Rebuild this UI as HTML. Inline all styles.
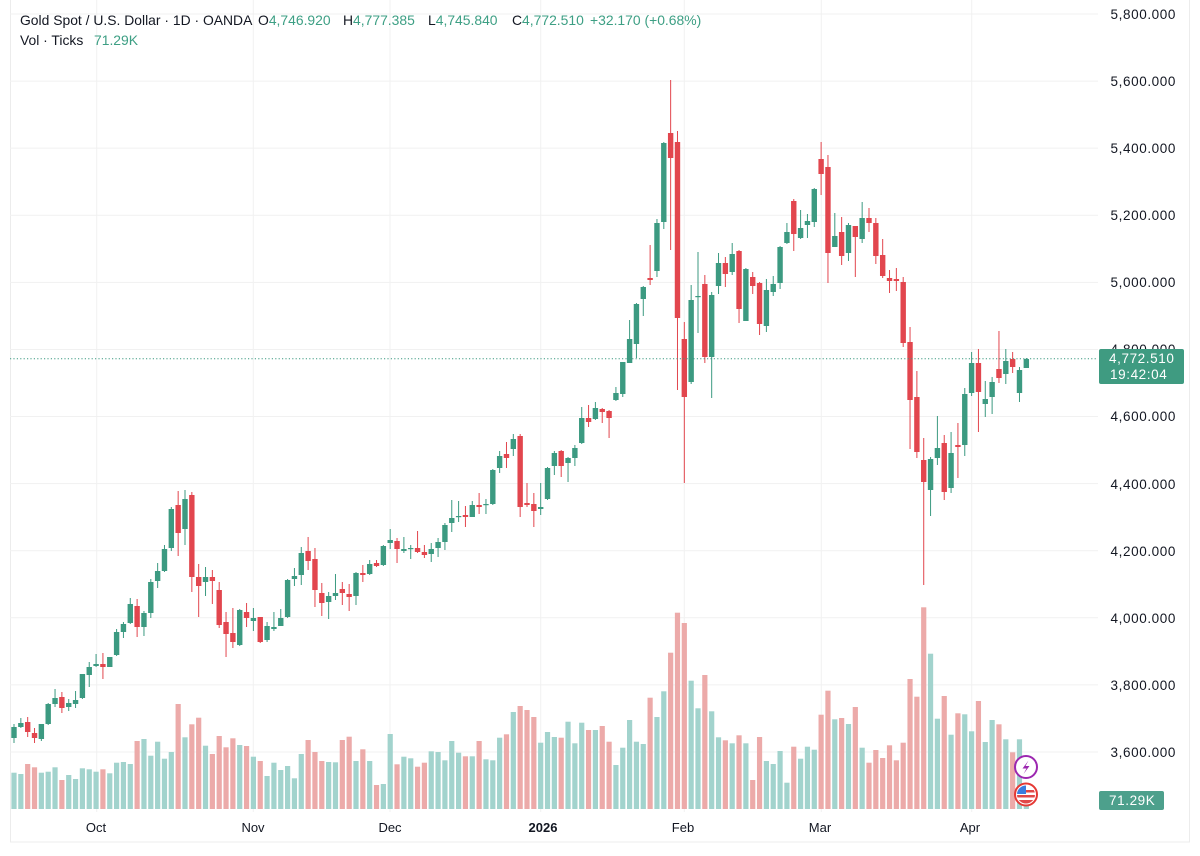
<!DOCTYPE html>
<html>
<head>
<meta charset="utf-8">
<style>
html,body{margin:0;padding:0;background:#fff;}
body{width:1200px;height:856px;overflow:hidden;position:relative;font-family:"Liberation Sans",sans-serif;color:#131722;}
svg{position:absolute;left:0;top:0;}
.t{position:absolute;font-size:13.9px;white-space:nowrap;line-height:16px;}
.gr{color:#3d9f84;}
</style>
</head>
<body>
<svg id="chart" width="1200" height="856" viewBox="0 0 1200 856" xmlns="http://www.w3.org/2000/svg">
  <rect x="10.5" y="-2" width="1179" height="844" fill="none" stroke="#ececec" stroke-width="1"/>
  <g id="grid" stroke="#f1f1f1" stroke-width="1"></g>
  <g id="vol"></g>
  <g id="candles"></g>
  <line x1="10" y1="358.7" x2="1098" y2="358.7" stroke="#3c9a81" stroke-width="1" stroke-dasharray="1.2,2.2"/>
  <g font-family="Liberation Sans, sans-serif" font-size="13.5" fill="#131722" text-anchor="end" letter-spacing="0.6">
    <text x="1176" y="19">5,800.000</text>
    <text x="1176" y="86">5,600.000</text>
    <text x="1176" y="153">5,400.000</text>
    <text x="1176" y="220">5,200.000</text>
    <text x="1176" y="287">5,000.000</text>
    <text x="1176" y="354">4,800.000</text>
    <text x="1176" y="421">4,600.000</text>
    <text x="1176" y="489">4,400.000</text>
    <text x="1176" y="556">4,200.000</text>
    <text x="1176" y="623">4,000.000</text>
    <text x="1176" y="690">3,800.000</text>
    <text x="1176" y="757">3,600.000</text>
  </g>
  <rect x="1099" y="349" width="85" height="35" rx="2" fill="#3f9b81"/>
  <g font-family="Liberation Sans, sans-serif" font-size="13.5" fill="#ffffff" letter-spacing="0.6">
    <text x="1109" y="363">4,772.510</text>
    <text x="1110" y="379">19:42:04</text>
  </g>
  <rect x="1099" y="791" width="65" height="19" rx="2" fill="#4da08c"/>
  <text x="1109" y="805" font-family="Liberation Sans, sans-serif" font-size="13.5" fill="#ffffff" letter-spacing="0.6">71.29K</text>
  <circle cx="1026" cy="767" r="11" fill="#fff" stroke="#9c27b0" stroke-width="2"/>
  <path d="M1028.5 760.5 L1022.5 768.5 L1026.5 768.5 L1023.5 774 L1029.5 766 L1025.5 766 Z" fill="#9c27b0"/>
  <defs><clipPath id="fc"><circle cx="1026" cy="794.5" r="9"/></clipPath></defs>
  <circle cx="1026" cy="794.5" r="11" fill="#fff" stroke="#e53935" stroke-width="2"/>
  <g clip-path="url(#fc)">
    <rect x="1016" y="785" width="20" height="20" fill="#fff"/>
    <rect x="1016" y="790" width="20" height="2.5" fill="#e04848"/>
    <rect x="1016" y="795" width="20" height="2.5" fill="#e04848"/>
    <rect x="1016" y="800" width="20" height="6" fill="#e04848"/>
    <rect x="1016" y="785" width="10" height="9" fill="#3b7de0"/>
  </g>
  <g font-family="Liberation Sans, sans-serif" font-size="13" fill="#131722" text-anchor="middle">
    <text x="96" y="832">Oct</text>
    <text x="253" y="832">Nov</text>
    <text x="390" y="832">Dec</text>
    <text x="543" y="832" font-weight="bold">2026</text>
    <text x="683" y="832">Feb</text>
    <text x="820" y="832">Mar</text>
    <text x="970" y="832">Apr</text>
  </g>
</svg>

<div class="t" style="left:20px;top:12px;">Gold Spot / U.S. Dollar · 1D · OANDA</div>
<div class="t" style="left:258px;top:12px;">O<span class="gr">4,746.920</span></div>
<div class="t" style="left:343px;top:12px;">H<span class="gr">4,777.385</span></div>
<div class="t" style="left:428px;top:12px;">L<span class="gr">4,745.840</span></div>
<div class="t" style="left:512px;top:12px;">C<span class="gr">4,772.510</span></div>
<div class="t gr" style="left:590px;top:12px;">+32.170 (+0.68%)</div>
<div class="t" style="left:20px;top:32px;">Vol · Ticks</div>
<div class="t gr" style="left:94px;top:32px;">71.29K</div>

<script>
(function(){
var NS="http://www.w3.org/2000/svg";
function el(tag,attrs,parent){var e=document.createElementNS(NS,tag);for(var k in attrs)e.setAttribute(k,attrs[k]);parent.appendChild(e);return e;}
var grid=document.getElementById('grid');
for(var k=0;k<12;k++){var y=14+k*67.09;el('line',{x1:10,x2:1098,y1:y,y2:y},grid);}
[96.7,253.3,390,540.7,684.3,821.3,971.7].forEach(function(x){el('line',{x1:x,x2:x,y1:0,y2:812},grid);});

var C=[
[1,724,727,738,743],[1,718,723,727,728],[0,717,722,732,737],[0,728,733,738,743],[1,724,724,739,741],
[1,703,704,724,725],[1,689,698,704,707],[0,692,697,708,713],[1,699,703,707,711],[1,691,700,704,708],
[1,674,674,698,699],[1,662,667,675,687],[1,654,664,666,667],[0,653,664,667,679],[1,657,657,667,667],
[1,629,632,655,656],[1,622,624,632,638],[1,598,604,623,624],[0,599,606,627,637],[1,611,613,627,636],
[1,579,582,613,618],[1,563,571,581,588],[1,545,549,571,572],[1,507,509,548,551],[0,491,505,533,556],
[1,490,499,529,545],[0,492,495,577,592],[0,564,577,586,617],[1,567,577,582,596],[0,570,577,581,604],
[0,582,590,625,628],[0,612,622,634,657],[0,608,633,642,648],[1,609,610,645,646],[0,603,612,618,627],
[1,608,618,621,631],[0,617,617,642,643],[1,622,626,640,642],[1,612,627,629,631],[1,609,618,626,626],
[1,579,580,617,618],[1,568,576,579,586],[1,547,553,575,585],[0,537,551,561,570],[0,548,559,590,607],
[0,583,593,603,616],[1,592,596,602,619],[1,574,593,596,600],[0,582,589,593,605],[0,584,594,597,611],
[1,572,573,596,605],[0,565,573,575,582],[1,560,564,574,575],[0,560,563,566,567],[1,545,546,565,566],
[1,529,540,543,549],[0,538,541,549,563],[1,537,549,551,553],[1,545,548,549,559],[0,531,548,552,553],
[0,545,552,555,558],[1,543,549,554,562],[1,538,542,548,557],[1,523,525,542,550],[1,500,518,523,532],
[1,501,516,517,522],[0,506,515,517,527],[1,501,505,517,517],[0,493,505,507,514],[1,499,504,505,514],
[1,469,470,504,505],[1,451,456,468,473],[0,442,454,458,468],[1,434,439,449,456],[0,434,436,507,517],
[0,483,503,505,507],[0,493,504,511,527],[1,483,507,509,515],[1,467,468,499,500],[1,451,453,466,475],
[0,450,451,466,477],[1,457,458,463,482],[1,445,448,458,466],[1,407,418,443,444],[0,405,418,422,427],
[1,402,408,419,420],[0,408,409,412,423],[0,410,411,418,438],[1,387,393,400,401],[1,362,362,394,397],
[1,320,339,363,363],[1,303,304,344,358],[1,286,287,299,316],[0,245,278,280,285],[1,219,223,271,277],
[1,142,143,222,229],[0,80,133,158,250],[0,131,142,318,390],[0,322,339,397,483],[1,285,300,382,384],
[1,252,296,297,333],[0,275,284,357,363],[1,292,295,357,398],[1,253,263,286,294],[0,257,263,274,287],
[1,243,254,272,275],[0,250,251,309,323],[1,268,269,321,321],[0,272,277,286,294],[0,282,283,324,335],
[1,279,290,326,332],[1,276,284,292,296],[1,246,247,283,289],[1,223,232,243,244],[0,199,201,234,251],
[1,210,228,238,239],[1,214,221,225,238],[1,188,189,222,227],[0,142,159,174,195],[0,155,167,253,283],
[1,213,236,247,247],[0,217,232,256,265],[1,223,225,253,261],[0,226,226,237,277],[1,202,218,239,243],
[0,208,218,223,232],[0,218,223,256,264],[0,239,255,276,278],[0,270,278,281,293],[0,268,279,281,291],
[0,277,282,343,347],[0,327,342,400,449],[0,371,397,452,458],[0,438,460,482,585],[1,457,459,490,516],
[1,416,448,458,465],[0,435,443,492,500],[1,432,453,488,493],[0,423,445,447,478],[1,388,394,445,456],
[1,352,363,393,396],[0,349,363,392,432],[1,381,399,404,417],[1,377,382,397,414],[0,331,369,378,383],
[1,349,361,374,384],[0,352,359,367,373],[1,367,370,393,402],[1,358,359,368,368]
];
var V=[772.7,774,764,767.3,772.7,771.7,767.3,780,775,779,768.3,769.3,771.7,769.3,773.3,762.7,762,764,741,739,
755.7,741.7,758.7,752,704,737.3,724.3,717.7,745.7,754,736,747.3,738.3,745,746,756.7,761,776,762.7,770,
766,778.3,754,740,752,761,762,762.3,740,736.7,761,749.3,761,785,784,734,764.3,756.7,758.3,766.7,
762.7,751.3,752,760.3,741,752.7,756.3,756.3,741,759.3,760.3,737.7,734.3,712,706,710,717,742.7,732,737,
737.7,721.7,743.3,722.7,730,730,726,741.7,765,747.7,720,741.7,744,697.7,717,691.3,652.7,612.7,623,680.7,
708.3,675,711.3,737.3,740.3,743.3,735.3,743.3,780,737,761,764,751,782.7,746.7,758.7,746.7,749.7,714.7,690.7,
719.3,718,724,707,747.7,762.7,750,758,745.3,760.3,742.7,679,696.7,607.3,653.7,718.7,696,734.7,713.3,714.3,
731.3,701,742,720,724.3,739.3,752.3,739.3,790];
var G="#3c9a81",R="#e2464e",VG="#a2d3cd",VR="#ecaaa9";
var vg=document.getElementById('vol'),cg=document.getElementById('candles');
for(var i=0;i<C.length;i++){
  var x=14+i*6.84,c=C[i],col=c[0]?G:R;
  var vt=V[i]!==undefined?V[i]:790;
  el('rect',{x:(x-2.6).toFixed(2),y:vt,width:5.2,height:(809-vt).toFixed(2),fill:c[0]?VG:VR},vg);
  el('rect',{x:(x-0.5).toFixed(2),y:c[1],width:1,height:Math.max(1,c[4]-c[1]),fill:col},cg);
  el('rect',{x:(x-2.7).toFixed(2),y:c[2],width:5.4,height:Math.max(1.2,c[3]-c[2]),fill:col},cg);
}
})();
</script>
</body>
</html>
